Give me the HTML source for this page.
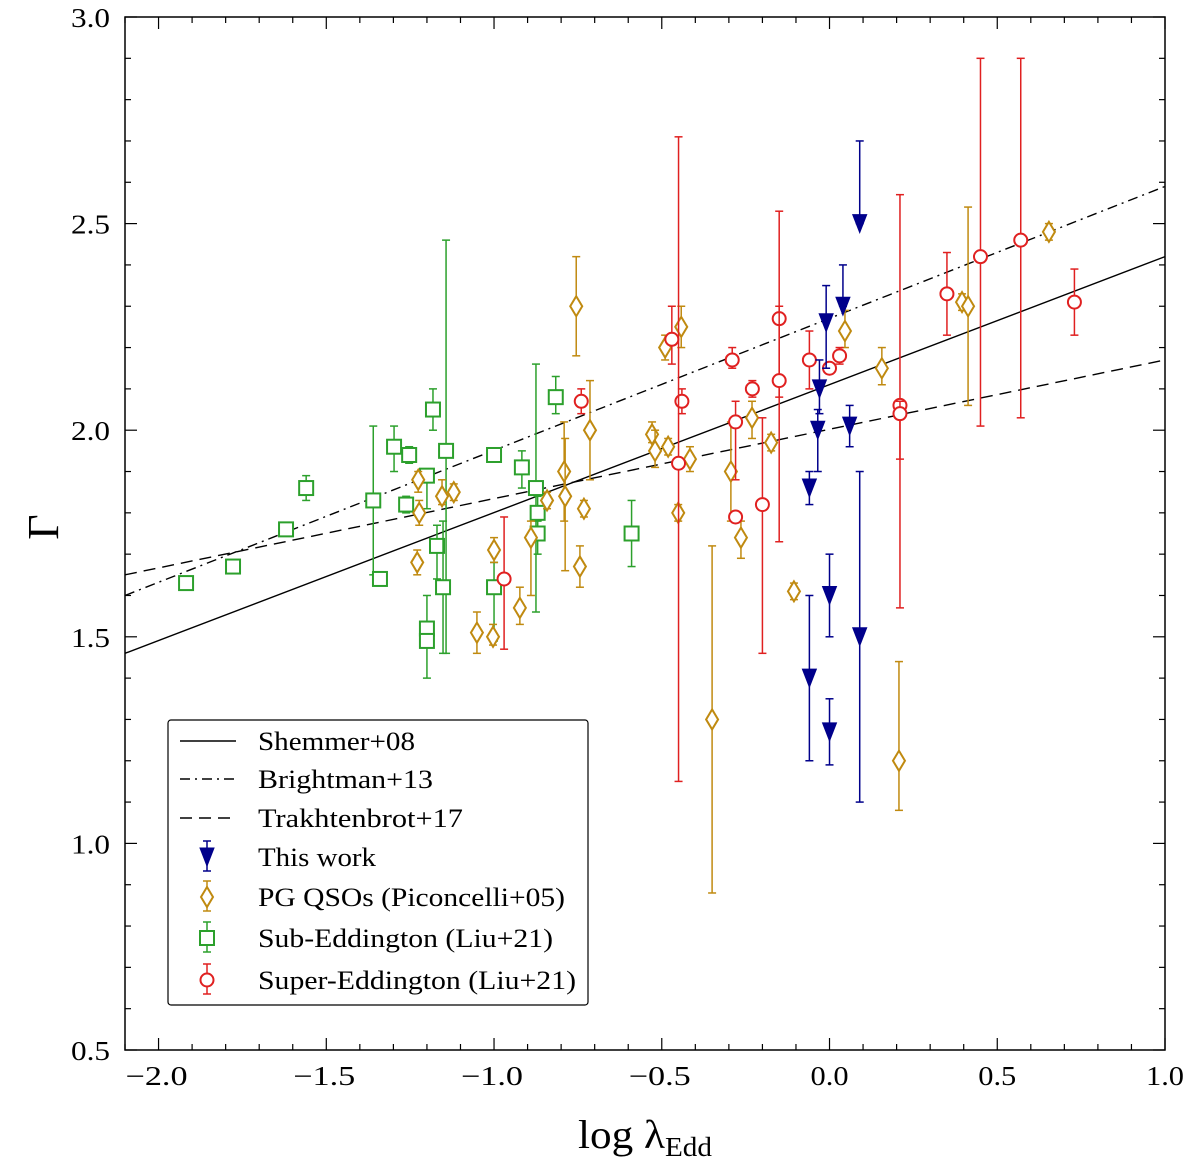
<!DOCTYPE html>
<html><head><meta charset="utf-8"><style>
html,body{margin:0;padding:0;background:#fff;}
svg{display:block;font-family:"Liberation Serif","DejaVu Serif",serif;}
</style></head><body>
<svg id="chart" width="1200" height="1165" viewBox="0 0 1200 1165" xmlns="http://www.w3.org/2000/svg">
<g id="plot"></g>
<g id="axes"></g>
<g id="legend"></g>
</svg>
<script>
const xTicks=[-2.0,-1.5,-1.0,-0.5,0.0,0.5,1.0];
const xTickLabels=["\u22122.0","\u22121.5","\u22121.0","\u22120.5","0.0","0.5","1.0"];
const yTicks=[0.5,1.0,1.5,2.0,2.5,3.0];
const yTickLabels=["0.5","1.0","1.5","2.0","2.5","3.0"];
const relNames=["Shemmer+08","Brightman+13","Trakhtenbrot+17"];
const relY0=[1.46,1.60,1.65];   // at x=-2.1
const relY1=[2.42,2.59,2.17];   // at x=1.0

const blueX=[0.09,0.04,-0.01,-0.03,-0.035,0.06,-0.06,0.0,-0.06,0.0,0.09];
const blueY=[2.50,2.30,2.26,2.10,2.00,2.01,1.86,1.60,1.40,1.27,1.50];
const blueLo=[2.50,2.30,2.15,2.04,1.90,1.96,1.82,1.50,1.20,1.19,1.10];
const blueHi=[2.70,2.40,2.35,2.17,2.05,2.06,1.90,1.70,1.60,1.35,1.90];

const pgX=[0.654,0.395,0.413,0.156,0.046,-0.755,-0.442,-0.490,-0.714,-0.529,-0.520,-0.481,-0.416,-0.231,-0.174,-0.791,-0.788,-0.732,-0.842,-0.890,-0.744,-1.0,-1.003,-1.051,-0.923,-1.229,-1.223,-1.226,-1.155,-1.120,-0.451,-0.294,-0.264,-0.106,-0.350,0.207];
const pgY=[2.48,2.31,2.30,2.15,2.24,2.30,2.25,2.20,2.00,1.99,1.95,1.96,1.93,2.03,1.97,1.90,1.84,1.81,1.83,1.74,1.67,1.71,1.50,1.51,1.57,1.68,1.80,1.88,1.84,1.85,1.80,1.90,1.74,1.61,1.30,1.20];
const pgLo=[2.46,2.29,2.06,2.11,2.20,2.18,2.20,2.17,1.88,1.97,1.91,1.94,1.90,1.98,1.95,1.78,1.66,1.79,1.81,1.60,1.62,1.68,1.48,1.46,1.53,1.65,1.77,1.85,1.82,1.83,1.78,1.78,1.69,1.59,0.88,1.08];
const pgHi=[2.50,2.33,2.54,2.20,2.29,2.42,2.30,2.23,2.12,2.02,2.00,1.98,1.96,2.07,1.99,2.02,1.98,1.83,1.85,1.78,1.72,1.74,1.53,1.56,1.62,1.71,1.83,1.90,1.88,1.87,1.82,2.02,1.78,1.63,1.72,1.44];

const subX=[-1.918,-1.778,-1.620,-1.560,-1.360,-1.340,-1.298,-1.253,-1.262,-1.200,-1.182,-1.170,-1.143,-1.152,-1.200,-1.200,-1.0,-1.0,-0.917,-0.875,-0.870,-0.870,-0.816,-0.590];
const subY=[1.63,1.67,1.76,1.86,1.83,1.64,1.96,1.94,1.82,1.89,2.05,1.72,1.95,1.62,1.52,1.49,1.94,1.62,1.91,1.86,1.80,1.75,2.08,1.75];
const subLo=[1.63,1.67,1.76,1.83,1.65,1.64,1.90,1.92,1.80,1.81,2.00,1.64,1.46,1.46,1.40,1.49,1.94,1.49,1.86,1.56,1.75,1.70,2.04,1.67];
const subHi=[1.63,1.67,1.76,1.89,2.01,1.64,2.01,1.96,1.84,1.90,2.10,1.77,2.46,1.78,1.60,1.49,1.94,1.68,1.95,2.16,1.84,1.78,2.13,1.83];

const supX=[-0.97,-0.74,-0.47,-0.44,-0.45,-0.29,-0.28,-0.28,-0.23,-0.20,-0.15,-0.15,-0.06,0.0,0.03,0.21,0.21,0.35,0.45,0.57,0.73];
const supY=[1.64,2.07,2.22,2.07,1.92,2.17,2.02,1.79,2.10,1.82,2.27,2.12,2.17,2.15,2.18,2.06,2.04,2.33,2.42,2.46,2.31];
const supLo=[1.47,2.04,2.16,2.04,1.15,2.15,1.88,1.78,2.08,1.46,2.08,1.73,2.10,2.15,2.16,1.57,1.93,2.23,2.01,2.03,2.23];
const supHi=[1.79,2.10,2.30,2.10,2.71,2.20,2.07,1.80,2.12,2.03,2.53,2.30,2.24,2.15,2.20,2.57,2.07,2.43,2.90,2.90,2.39];

const L=125,R=1165,T=17,B=1050,XMIN=-2.1,XMAX=1.0,YMIN=0.5,YMAX=3.0;
const sx=v=>L+(v-XMIN)/(XMAX-XMIN)*(R-L);
const sy=v=>B-(v-YMIN)/(YMAX-YMIN)*(B-T);
const NS="http://www.w3.org/2000/svg";
function mk(tag,attrs,parent){const e=document.createElementNS(NS,tag);for(const k in attrs)e.setAttribute(k,attrs[k]);parent.appendChild(e);return e;}
const plot=document.getElementById('plot'),axes=document.getElementById('axes'),legend=document.getElementById('legend');

const dashes=["none","10,5,2,5","12,7"];
const relKeys=["shemmer-line","brightman-line","trakhtenbrot-line"];
for(let i=0;i<3;i++){
  const ln=mk('line',{x1:sx(XMIN),y1:sy(relY0[i]),x2:sx(XMAX),y2:sy(relY1[i]),stroke:'#000','stroke-width':1.4,'stroke-dasharray':dashes[i]},plot);
  
  
}
function marker(type,cx,cy,color,parent){
  let e;
  if(type==='tri') e=mk('polygon',{points:`${cx-7},${cy-9} ${cx+7},${cy-9} ${cx},${cy+9}`,fill:color,stroke:color,'stroke-width':1},parent);
  else if(type==='dia') e=mk('polygon',{points:`${cx},${cy-10} ${cx+6},${cy} ${cx},${cy+10} ${cx-6},${cy}`,fill:'#fff',stroke:color,'stroke-width':2},parent);
  else if(type==='sq') e=mk('rect',{x:cx-7,y:cy-7,width:14,height:14,fill:'#fff',stroke:color,'stroke-width':2},parent);
  else e=mk('circle',{cx:cx,cy:cy,r:6.5,fill:'#fff',stroke:color,'stroke-width':2},parent);
  return e;
}
function errbar(x,lo,hi,color,parent){
  const g=mk('g',{},parent);
  mk('line',{x1:x,y1:sy(lo),x2:x,y2:sy(hi),stroke:color,'stroke-width':1.5},g);
  mk('line',{x1:x-4,y1:sy(hi),x2:x+4,y2:sy(hi),stroke:color,'stroke-width':1.5},g);
  mk('line',{x1:x-4,y1:sy(lo),x2:x+4,y2:sy(lo),stroke:color,'stroke-width':1.5},g);
  return g;
}
function series(X,Y,LO,HI,type,color,name){
  const g=mk('g',{},plot);
  
  
  for(let i=0;i<X.length;i++){
    const px=sx(X[i]);
    const eb=errbar(px,LO[i],HI[i],color,g);
    
    
    const m=marker(type,px,sy(Y[i]),color,g);
    
    
  }
}
const C_ORANGE='#c08a10',C_GREEN='#2ca02c',C_RED='#e02020',C_BLUE='#00008b';
series(subX,subY,subLo,subHi,'sq',C_GREEN,'sub-eddington');
series(pgX,pgY,pgLo,pgHi,'dia',C_ORANGE,'pg-qso');
series(supX,supY,supLo,supHi,'circ',C_RED,'super-eddington');
series(blueX,blueY,blueLo,blueHi,'tri',C_BLUE,'this-work');

const fr=mk('rect',{x:L,y:T,width:R-L,height:B-T,fill:'none',stroke:'#000','stroke-width':1.5},axes);


for(let v=-2.1;v<=1.0001;v+=0.1){
  const major=Math.abs(v*2-Math.round(v*2))<1e-6; const len=major?12:6; const x=sx(v);
  mk('line',{x1:x,y1:B,x2:x,y2:B-len,stroke:'#000','stroke-width':1.2},axes);
  mk('line',{x1:x,y1:T,x2:x,y2:T+len,stroke:'#000','stroke-width':1.2},axes);
}
for(let v=0.5;v<=3.0001;v+=0.1){
  const major=Math.abs(v*2-Math.round(v*2))<1e-6; const len=major?12:6; const y=sy(v);
  mk('line',{x1:L,y1:y,x2:L+len,y2:y,stroke:'#000','stroke-width':1.2},axes);
  mk('line',{x1:R,y1:y,x2:R-len,y2:y,stroke:'#000','stroke-width':1.2},axes);
}
for(let i=0;i<xTicks.length;i++){
  const neg=xTickLabels[i].length>3;
  const t=mk('text',{x:sx(xTicks[i])+(neg?-2:0),y:1085,'text-anchor':'middle','font-size':27,textLength:neg?62:38,lengthAdjust:'spacingAndGlyphs'},axes);
  t.textContent=xTickLabels[i];
  
  
}
for(let i=0;i<yTicks.length;i++){
  const t=mk('text',{x:110,y:sy(yTicks[i])+10,'text-anchor':'end','font-size':27,textLength:39,lengthAdjust:'spacingAndGlyphs'},axes);
  t.textContent=yTickLabels[i];
  
  
}
const yl=mk('text',{x:43,y:542,'text-anchor':'middle','font-size':44,transform:'rotate(-90 43 527)'},axes);
yl.textContent='Γ';


const xl=mk('text',{x:578,y:1148,'font-size':40,textLength:134,lengthAdjust:'spacingAndGlyphs'},axes);
xl.innerHTML='log λ<tspan font-size="27" dy="8">Edd</tspan>';



const lb=mk('rect',{x:168,y:720,width:420,height:285,fill:'#fff',stroke:'#000','stroke-width':1.2,rx:3},legend);


const legNames=["Shemmer+08","Brightman+13","Trakhtenbrot+17","This work","PG QSOs (Piconcelli+05)","Sub-Eddington (Liu+21)","Super-Eddington (Liu+21)"];
const legW=[157,175,205,118,307,295,318];
const legY=[741,779,818,857,897,938,980];
const legType=[null,null,null,'tri','dia','sq','circ'];
const legCol=['#000','#000','#000',C_BLUE,C_ORANGE,C_GREEN,C_RED];
for(let i=0;i<legNames.length;i++){
  const g=mk('g',{},legend);
  
  
  const y=legY[i];
  if(i<3){ mk('line',{x1:180,y1:y,x2:236,y2:y,stroke:'#000','stroke-width':1.4,'stroke-dasharray':dashes[i]},g); }
  else {
    const cx=207;
    mk('line',{x1:cx,y1:y-16,x2:cx,y2:y+14,stroke:legCol[i],'stroke-width':1.5},g);
    mk('line',{x1:cx-4,y1:y-16,x2:cx+4,y2:y-16,stroke:legCol[i],'stroke-width':1.5},g);
    mk('line',{x1:cx-4,y1:y+14,x2:cx+4,y2:y+14,stroke:legCol[i],'stroke-width':1.5},g);
    marker(legType[i],cx,y,legCol[i],g);
  }
  const t=mk('text',{x:258,y:y+9,'font-size':26,textLength:legW[i],lengthAdjust:'spacingAndGlyphs'},g);
  t.textContent=legNames[i];
}
</script>
</body></html>
